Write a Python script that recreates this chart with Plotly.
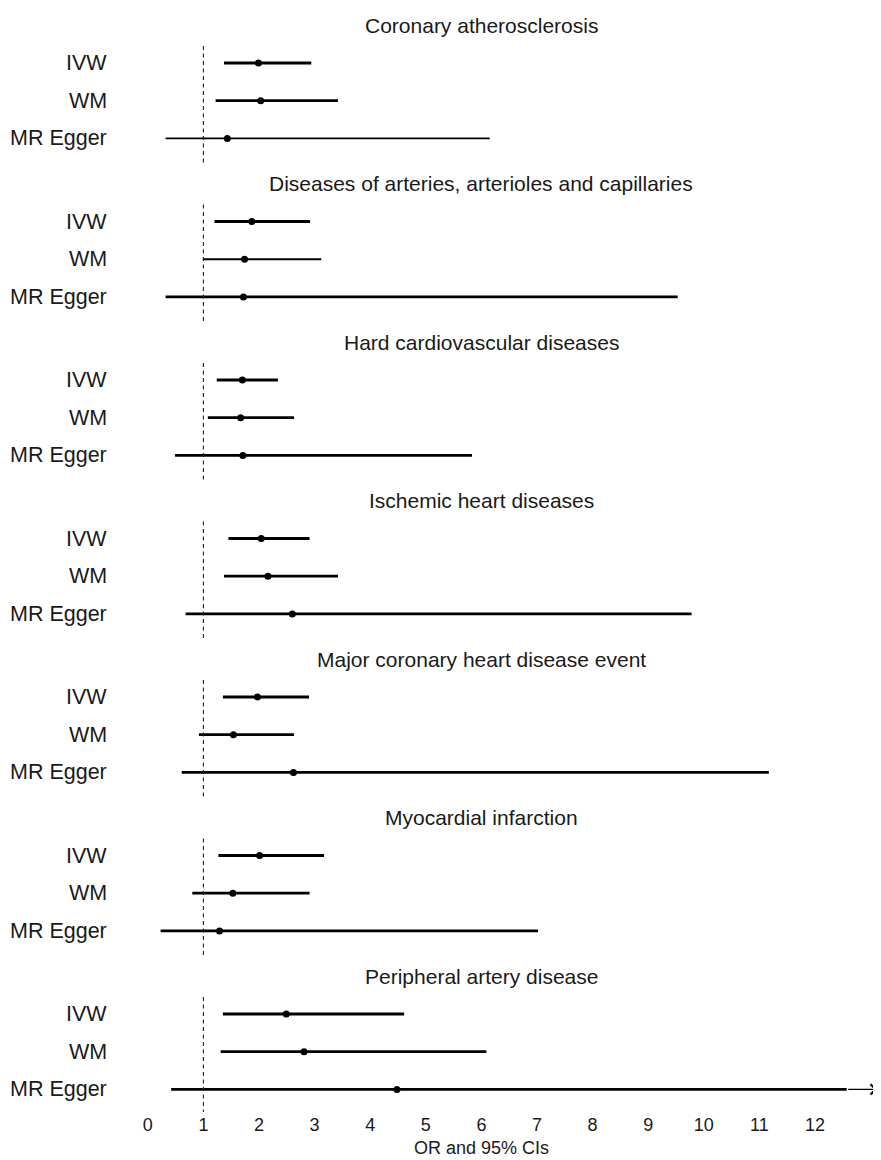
import plotly.graph_objects as go

# ---------------- data ----------------
outcomes = [
    "Coronary atherosclerosis",
    "Diseases of arteries, arterioles and capillaries",
    "Hard cardiovascular diseases",
    "Ischemic heart diseases",
    "Major coronary heart disease event",
    "Myocardial infarction",
    "Peripheral artery disease",
]
methods = ["IVW", "WM", "MR Egger"]

or_ivw = [1.99, 1.87, 1.70, 2.04, 1.97, 2.01, 2.49]
lo_ivw = [1.37, 1.20, 1.24, 1.45, 1.35, 1.27, 1.35]
hi_ivw = [2.94, 2.92, 2.34, 2.91, 2.90, 3.17, 4.61]

or_wm = [2.03, 1.74, 1.67, 2.16, 1.54, 1.53, 2.81]
lo_wm = [1.22, 0.99, 1.08, 1.37, 0.92, 0.80, 1.31]
hi_wm = [3.42, 3.12, 2.63, 3.42, 2.63, 2.91, 6.09]

or_egger = [1.43, 1.72, 1.71, 2.60, 2.62, 1.29, 4.48]
lo_egger = [0.32, 0.32, 0.49, 0.68, 0.61, 0.23, 0.42]
hi_egger = [6.15, 9.53, 5.83, 9.78, 11.17, 7.02, 14.50]

x_ticks = list(range(0, 13))
x_title = "OR and 95% CIs"
ref_value = 1
ci_clip = 12.57      # CIs beyond this are truncated with an arrow
arrow_end = 13.12

# ---------------- layout constants ----------------
# (the page body adds an 8 px offset, compensated here)
W, H = 881, 1160
L, R, T, B = 112, 0, 0, 56
PX_UNIT = 55.6
xmin = -0.5
xmax = xmin + (W - L - R) / PX_UNIT
ROW = 37.7
GROUP = 158.5
FIRST = 55
plot_h = H - T - B
y_top = -FIRST / ROW
y_bot = (plot_h - FIRST) / ROW

def ypos(g, r):
    return g * GROUP / ROW + r

FONT = "Liberation Sans, Arial, Helvetica, sans-serif"
TXT = "#1a1a1a"

est = [or_ivw, or_wm, or_egger]
los = [lo_ivw, lo_wm, lo_egger]
his = [hi_ivw, hi_wm, hi_egger]
widths = {(0, 2): 1.6, (1, 1): 2.0}

fig = go.Figure()
annotations = []
shapes = []

for g, name in enumerate(outcomes):
    shapes.append(dict(type="line", xref="x", yref="y",
                       x0=ref_value, x1=ref_value,
                       y0=ypos(g, 0) - 0.45, y1=ypos(g, 2) + 0.64,
                       line=dict(color="#222", width=1.1, dash="4px,3.5px")))
    annotations.append(dict(x=6, y=ypos(g, 0) - 1.0, xref="x", yref="y",
                            text=name, showarrow=False, xanchor="center",
                            yanchor="middle",
                            font=dict(family=FONT, size=21, color=TXT)))
    for r, m in enumerate(methods):
        y = ypos(g, r)
        lo, hi = los[r][g], his[r][g]
        hi_draw = min(hi, ci_clip)
        w = widths.get((g, r), 2.8)
        fig.add_trace(go.Scatter(x=[lo, hi_draw], y=[y, y], mode="lines",
                                 line=dict(color="black", width=w),
                                 hoverinfo="skip", showlegend=False))
        if hi > ci_clip:
            annotations.append(dict(x=arrow_end, y=y, ax=hi_draw, ay=y,
                                    xref="x", yref="y", axref="x", ayref="y",
                                    showarrow=True, arrowhead=4, arrowsize=1.8,
                                    arrowwidth=1.1, arrowcolor="black", text=""))
        annotations.append(dict(x=0, y=y, xref="paper", yref="y", text=m,
                                showarrow=False, xanchor="right", yanchor="middle",
                                xshift=-11,
                                font=dict(family=FONT, size=21.5, color=TXT)))

for r, m in enumerate(methods):
    fig.add_trace(go.Scatter(
        x=est[r], y=[ypos(g, r) for g in range(len(outcomes))],
        mode="markers", marker=dict(color="black", size=7),
        showlegend=False, name=m))

annotations.append(dict(x=6, y=0, xref="x", yref="paper", text=x_title,
                        showarrow=False, xanchor="center", yanchor="top",
                        yshift=-25, borderpad=0,
                        font=dict(family=FONT, size=18, color=TXT)))

fig.update_layout(
    width=W, height=H,
    margin=dict(l=L, r=R, t=T, b=B),
    paper_bgcolor="white", plot_bgcolor="white",
    font=dict(family=FONT, size=20, color=TXT),
    shapes=shapes, annotations=annotations,
    xaxis=dict(range=[xmin, xmax], tickvals=x_ticks, showgrid=False,
               zeroline=False, showline=False, ticks="",
               tickfont=dict(family=FONT, size=18, color=TXT)),
    yaxis=dict(range=[y_bot, y_top], visible=False, showgrid=False,
               zeroline=False),
)

fig.write_html("out.html")
